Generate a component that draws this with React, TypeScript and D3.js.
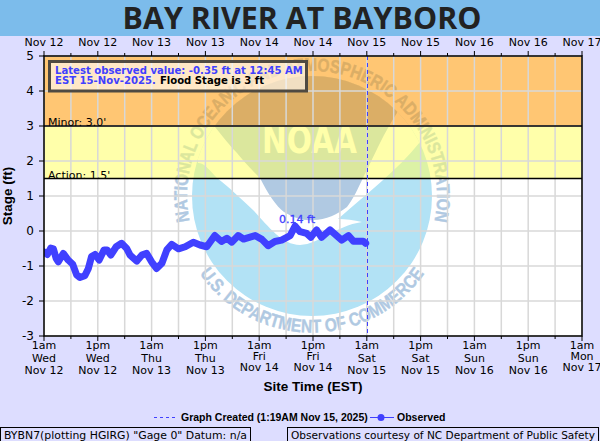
import React from "react";
import * as d3 from "d3";

const width = 600;
const height = 441;
const margin = { top: 56, bottom: 105, left: 44, right: 18 };

// hours since 1am Wed Nov 12
const obsHours = [0, 0.75, 1.5, 2.1, 2.7, 3.2, 4.3, 5.4, 6.4, 7.3, 8, 9.1, 9.9, 10.6, 11.4, 12.3, 13.4, 14.1, 14.9, 16.1, 17.3, 18.4, 19.2, 20.7, 21.8, 22.9, 24, 25.1, 26.3, 27.4, 28.5, 30, 31.5, 33.3, 34.8, 36.3, 38.1, 39.6, 40.8, 41.9, 43.3, 44.5, 47.1, 48.6, 50, 51.5, 53, 54.9, 56, 57.1, 58.6, 59.5, 60.8, 61.9, 63.8, 66.4, 67.9, 69, 71.2, 71.75];
const obsStage = [-0.6, -0.67, -0.49, -0.51, -0.78, -0.88, -0.64, -0.83, -0.95, -1.26, -1.33, -1.28, -1.07, -0.73, -0.67, -0.83, -0.54, -0.54, -0.69, -0.45, -0.35, -0.49, -0.69, -0.86, -0.69, -0.64, -0.88, -1.07, -0.92, -0.54, -0.38, -0.51, -0.45, -0.32, -0.4, -0.45, -0.13, -0.3, -0.21, -0.32, -0.13, -0.23, -0.13, -0.24, -0.42, -0.3, -0.26, -0.13, 0.14, -0.02, -0.07, -0.18, 0.03, -0.18, 0.03, -0.26, -0.13, -0.29, -0.29, -0.35];

const yTicks = [-3, -2, -1, 0, 1, 2, 3, 4, 5];
const topLabels = ["Nov 12", "Nov 12", "Nov 13", "Nov 13", "Nov 14", "Nov 14", "Nov 15", "Nov 15", "Nov 16", "Nov 16", "Nov 17"];
const hourLabels = ["1am", "1pm", "1am", "1pm", "1am", "1pm", "1am", "1pm", "1am", "1pm", "1am"];
const dayLabels = ["Wed", "Wed", "Thu", "Thu", "Fri", "Fri", "Sat", "Sat", "Sun", "Sun", "Mon"];
const totalHours = 120;
const createdHour = 72.1;
const peakHour = 56;
const peakValue = 0.14;

const blue = "#4040ff";
const logoDark = "#b0c9e2";
const sans = "'DejaVu Sans', sans-serif";
const arial = "'Liberation Sans', sans-serif";

const x = d3.scaleLinear().domain([0, totalHours]).range([margin.left, width - margin.right]);
const y = d3.scaleLinear().domain([-3, 5]).range([height - margin.bottom, margin.top]);

const obsPath = d3
  .line<number>()
  .x((d) => x(d))
  .y((_, i) => y(obsStage[i]))(obsHours) as string;

const isShortDay = (d: string) => d === "Fri" || d === "Mon";

// NOAA seal sits underneath the flood bands
const Logo = () => (
  <g>
    <defs>
      <clipPath id="disc">
        <circle cx={312} cy={196} r={120} />
      </clipPath>
      <path id="topArc" d="M 192.3 232 A 125 125 0 1 1 431.7 232" />
      <path id="bottomArc" d="M 196 268 A 136.5 136.5 0 0 0 428 268" />
    </defs>
    <circle cx={312} cy={196} r={120} fill="#b2e2f5" />
    <g clipPath="url(#disc)">
      <path
        d="M198 163 C204 162 211 172 217 178 C230 188 240 198 253 210 C268 226 282 245 300 245 C320 244 335 226 362 222 C354 220 345 219 338 219 C365 195 398 170 420 142 L430 60 L190 60 Z"
        fill="#fff"
      />
      <path
        d="M205 120 L215 127 C224 138 230 146 237 153 C246 164 252 170 260 178 C268 194 276 206 284 212 C294 218 304 221 313 220 C326 220 338 214 347 207 C354 198 358 188 363 178 C368 168 374 155 380 143 C385 133 391 122 397 113 L410 60 L205 60 Z"
        fill={logoDark}
      />
    </g>
    <text x={262} y={153} fontFamily={sans} fontWeight="bold" fontSize={38} fill="#fff" textLength={95} lengthAdjust="spacingAndGlyphs">
      NOAA
    </text>
    <text fontFamily={arial} fontWeight="bold" fontSize={18.5} fill={logoDark} stroke={logoDark} strokeWidth={0.4}>
      <textPath href="#topArc" startOffset="50%" textAnchor="middle" textLength={443} lengthAdjust="spacingAndGlyphs">
        NATIONAL OCEANIC AND ATMOSPHERIC ADMINISTRATION
      </textPath>
    </text>
    <text fontFamily={arial} fontWeight="bold" fontSize={18.5} fill={logoDark} stroke={logoDark} strokeWidth={0.4}>
      <textPath href="#bottomArc" startOffset="50%" textAnchor="middle" textLength={264} lengthAdjust="spacingAndGlyphs">
        U.S. DEPARTMENT OF COMMERCE
      </textPath>
    </text>
  </g>
);

const App = () => {
  const left = x(0);
  const right = x(totalHours);
  const top = y(5);
  const bottom = y(-3);
  const sixHours = d3.range(0, totalHours + 1, 6);

  return (
    <svg width={width} height={height} style={{ position: "absolute", left: 0, top: 0, background: "#ddddff" }}>
      <defs>
        <clipPath id="plotArea">
          <rect x={left} y={top} width={right - left} height={bottom - top} />
        </clipPath>
      </defs>
      <rect x={0} y={0} width={width} height={36} fill="#7cbceb" />
      <text x={302} y={28.5} textAnchor="middle" fontFamily="'Open Sans', sans-serif" fontWeight="bold" fontSize={30.4} fill="#222">
        BAY RIVER AT BAYBORO
      </text>

      <rect x={left} y={top} width={right - left} height={bottom - top} fill="#fff" />
      <Logo />
      <rect x={left} y={y(5)} width={right - left} height={y(3) - y(5)} fill="#ff9700" fillOpacity={0.55} />
      <rect x={left} y={y(3)} width={right - left} height={y(1.5) - y(3)} fill="#ffff64" fillOpacity={0.55} />

      {sixHours.map((h) => (
        <line key={h} x1={x(h)} x2={x(h)} y1={top} y2={bottom} stroke="#d8d8d8" strokeWidth={1.5} />
      ))}
      {yTicks.map((t) => (
        <line key={t} x1={left} x2={right} y1={y(t)} y2={y(t)} stroke="#d8d8d8" strokeWidth={1.5} />
      ))}

      <text x={48} y={y(3)} fontFamily={sans} fontSize={11} fill="#000">Minor: 3.0'</text>
      <text x={48} y={y(1.5)} fontFamily={sans} fontSize={11} fill="#000">Action: 1.5'</text>
      <line x1={left} x2={right} y1={y(3)} y2={y(3)} stroke="#000" strokeWidth={1.5} />
      <line x1={left} x2={right} y1={y(1.5)} y2={y(1.5)} stroke="#000" strokeWidth={1.5} />

      <line x1={x(createdHour)} x2={x(createdHour)} y1={top} y2={bottom} stroke={blue} strokeDasharray="4,3" shapeRendering="crispEdges" />
      <g clipPath="url(#plotArea)">
        <path d={obsPath} fill="none" stroke={blue} strokeWidth={7} strokeLinejoin="round" strokeLinecap="round" />
      </g>
      <text x={x(peakHour) + 2} y={y(peakValue) - 3} textAnchor="middle" fontFamily={sans} fontSize={11} fill={blue} stroke={blue} strokeWidth={0.3}>
        {peakValue} ft
      </text>

      <rect x={left} y={top} width={right - left} height={bottom - top} fill="none" stroke="#000" strokeWidth={1.5} />
      {sixHours.map((h, i) => {
        const len = i % 2 === 0 ? 5 : 3;
        return (
          <g key={h}>
            <line x1={x(h)} x2={x(h)} y1={top} y2={top - len} stroke="#000" />
            <line x1={x(h)} x2={x(h)} y1={bottom} y2={bottom + len} stroke="#000" />
          </g>
        );
      })}
      {yTicks.map((t) => (
        <g key={t}>
          <line x1={left - 5} x2={left} y1={y(t)} y2={y(t)} stroke="#000" />
          <text x={left - 10} y={y(t) + 4} textAnchor="end" fontFamily={sans} fontSize={12} fill="#000">
            {t}
          </text>
        </g>
      ))}

      {topLabels.map((d, i) => (
        <text key={i} x={x(i * 12)} y={46} textAnchor="middle" fontFamily={sans} fontSize={11} fill="#000">
          {d}
        </text>
      ))}
      {hourLabels.map((d, i) => {
        const short = isShortDay(dayLabels[i]);
        return (
          <text key={i} textAnchor="middle" fontFamily={sans} fontSize={11} fill="#000">
            <tspan x={x(i * 12)} y={349}>{d}</tspan>
            <tspan x={x(i * 12)} y={short ? 360 : 362}>{dayLabels[i]}</tspan>
            <tspan x={x(i * 12)} y={short ? 371 : 374}>{topLabels[i]}</tspan>
          </text>
        );
      })}

      <text x={313} y={391} textAnchor="middle" fontFamily={arial} fontWeight="bold" fontSize={13.5} fill="#000">
        Site Time (EST)
      </text>
      <text transform={`translate(12,${y(1)}) rotate(-90)`} textAnchor="middle" fontFamily={arial} fontWeight="bold" fontSize={13.5} fill="#000">
        Stage (ft)
      </text>

      <line x1={154} x2={176} y1={417.5} y2={417.5} stroke={blue} strokeDasharray="3,3" />
      <text x={181} y={421} fontFamily={arial} fontWeight="bold" fontSize={10.5} fill="#000">
        Graph Created (1:19AM Nov 15, 2025)
      </text>
      <line x1={370} x2={394} y1={417.5} y2={417.5} stroke={blue} />
      <circle cx={381} cy={417.5} r={3.5} fill={blue} />
      <text x={397} y={421} fontFamily={arial} fontWeight="bold" fontSize={10.5} fill="#000">
        Observed
      </text>

      <rect x={49.5} y={61.5} width={257} height={29.5} fill="#fff" fillOpacity={0.6} stroke="#4f4a42" strokeWidth={3} />
      <text fontFamily={sans} fontWeight="bold" fontSize={10.1}>
        <tspan x={55} y={74} fill={blue}>Latest observed value: -0.35 ft at 12:45 AM</tspan>
        <tspan x={55} y={84} fill={blue}>EST 15-Nov-2025.</tspan>
        <tspan dx={4} fill="#000">Flood Stage is 3 ft</tspan>
      </text>

      <rect x={0.5} y={427.5} width={250} height={20} fill="none" stroke="#000" />
      <text x={4} y={439} fontFamily={sans} fontSize={10.8} fill="#000" textLength={243} lengthAdjust="spacingAndGlyphs">
        BYBN7(plotting HGIRG) "Gage 0" Datum: n/a
      </text>
      <rect x={287.5} y={427.5} width={311} height={20} fill="none" stroke="#000" />
      <text x={291} y={439} fontFamily={sans} fontSize={10.8} fill="#000" textLength={304} lengthAdjust="spacingAndGlyphs">
        Observations courtesy of NC Department of Public Safety
      </text>
    </svg>
  );
};

export default App;
